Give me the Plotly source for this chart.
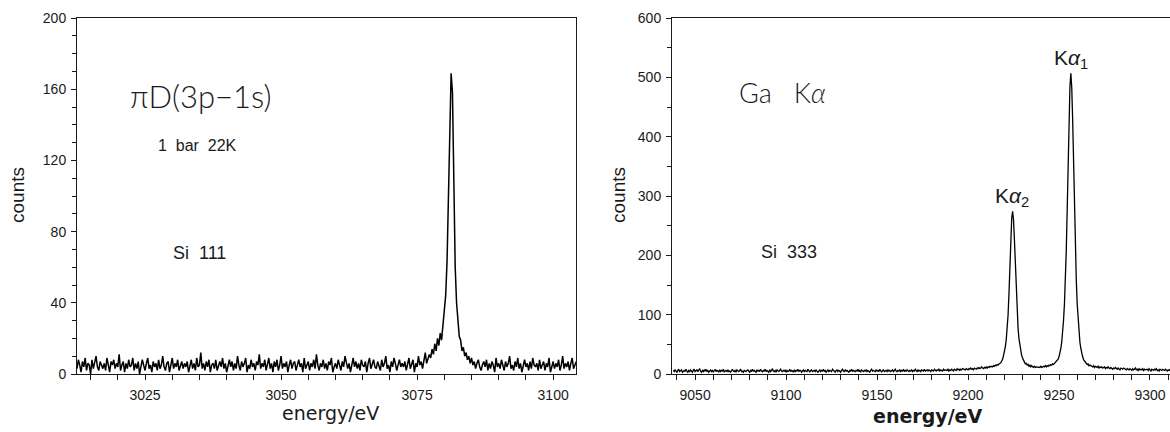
import numpy as np
import plotly.graph_objects as go

# ---------------- data: left panel (pionic deuterium 3p-1s), 0.25 eV bins ----------------
pd_start_eV = 3012.5
pd_step_eV = 0.25
pd_counts = [
    3, 8, 5, 1, 7, 4, 9, 2, 6, 5, 0, 8, 3, 6, 10, 4, 2, 7, 5, 3,
    6, 2, 9, 4, 1, 7, 5, 8, 3, 6, 4, 11, 2, 5, 7, 1, 6, 3, 8, 4,
    5, 9, 2, 6, 3, 7, 0, 4, 8, 5, 2, 6, 9, 3, 5, 1, 7, 4, 6, 2,
    8, 3, 5, 10, 4, 2, 6, 7, 1, 5, 9, 3, 6, 4, 8, 2, 5, 7, 3, 6,
    4, 7, 1, 5, 8, 3, 6, 2, 9, 4, 5, 12, 3, 6, 2, 7, 4, 8, 1, 5,
    6, 3, 8, 2, 5, 7, 4, 9, 3, 6, 1, 5, 8, 4, 7, 2, 6, 3, 10, 5,
    2, 7, 4, 6, 9, 1, 5, 3, 8, 4, 6, 2, 7, 5, 11, 3, 6, 4, 8, 2,
    5, 9, 3, 6, 1, 7, 4, 8, 2, 5, 10, 3, 6, 4, 7, 1, 5, 8, 3, 6,
    7, 2, 5, 8, 4, 6, 1, 9, 3, 5, 7, 2, 6, 4, 8, 3, 11, 5, 2, 6,
    4, 8, 3, 6, 2, 7, 5, 9, 1, 4, 6, 3, 8, 5, 2, 7, 4, 10, 6, 3,
    6, 1, 5, 9, 4, 7, 3, 6, 2, 8, 5, 4, 7, 1, 6, 9, 3, 5, 8, 4,
    3, 7, 5, 2, 8, 4, 6, 10, 3, 5, 1, 7, 4, 9, 6, 2, 5, 8, 4, 6,
    4, 7, 2, 6, 9, 3, 5, 8, 1, 6, 4, 10, 5, 7, 3, 8, 12, 6, 9, 11,
    9, 14, 11, 17, 13, 20, 16, 23, 19, 27, 33, 44, 63, 98, 152, 169, 158, 95, 60, 40,
    29, 21, 19, 13, 15, 10, 12, 8, 10, 6, 9, 5, 7, 3, 6, 8, 4, 2, 5, 7,
    4, 8, 2, 6, 3, 7, 5, 1, 9, 4, 6, 3, 8, 5, 2, 7, 4, 6, 10, 3,
    5, 2, 7, 4, 9, 3, 6, 1, 5, 8, 4, 6, 2, 7, 3, 9, 5, 4, 6, 2,
    8, 3, 5, 7, 2, 6, 4, 9, 1, 5, 7, 3, 6, 4, 8, 2, 5, 10, 3, 6,
    4, 7, 2, 6, 9, 3, 5, 7,
]

# ---------------- data: right panel (Ga K-alpha), 0.5 eV bins ----------------
ga_start_eV = 9038.0
ga_step_eV = 0.5
ga_counts = [
    6, 4, 7, 5, 3, 6, 8, 4, 5, 7, 3, 5, 6, 4, 8, 5, 3, 6, 4, 7,
    5, 3, 6, 8, 4, 5, 7, 4, 6, 9, 5, 3, 6, 4, 7, 5, 8, 4, 6, 3,
    5, 7, 4, 6, 3, 5, 8, 4, 6, 5, 3, 7, 4, 6, 5, 8, 3, 5, 6, 4,
    7, 4, 5, 3, 6, 8, 5, 4, 6, 3, 7, 5, 4, 6, 8, 4, 5, 3, 6, 5,
    4, 6, 7, 5, 3, 6, 4, 8, 5, 6, 4, 3, 7, 5, 6, 4, 8, 5, 3, 6,
    5, 8, 4, 6, 5, 3, 7, 4, 6, 9, 5, 4, 6, 3, 7, 5, 4, 6, 8, 5,
    4, 6, 5, 7, 3, 6, 4, 5, 8, 4, 6, 5, 3, 7, 4, 6, 5, 8, 4, 6,
    6, 3, 5, 7, 4, 6, 5, 4, 8, 5, 3, 6, 7, 4, 5, 6, 4, 7, 5, 3,
    5, 7, 4, 6, 5, 8, 4, 6, 3, 5, 7, 4, 6, 5, 4, 8, 6, 5, 3, 6,
    7, 4, 6, 5, 3, 6, 8, 5, 4, 7, 5, 6, 4, 3, 6, 5, 8, 4, 6, 5,
    4, 6, 5, 8, 4, 6, 3, 7, 5, 4, 6, 5, 7, 4, 6, 5, 3, 6, 8, 5,
    6, 5, 4, 7, 5, 6, 4, 8, 5, 3, 6, 7, 4, 5, 6, 4, 7, 5, 6, 4,
    5, 7, 4, 6, 8, 5, 4, 6, 5, 7, 4, 6, 5, 8, 4, 6, 5, 7, 6, 4,
    6, 5, 7, 4, 6, 5, 8, 6, 4, 7, 5, 6, 4, 7, 6, 5, 8, 5, 6, 7,
    5, 7, 6, 4, 7, 6, 5, 8, 6, 5, 7, 6, 8, 5, 7, 6, 5, 8, 6, 7,
    7, 6, 8, 5, 7, 6, 8, 7, 5, 8, 7, 6, 9, 7, 8, 6, 8, 7, 9, 8,
    8, 7, 9, 8, 7, 9, 8, 10, 8, 9, 7, 10, 9, 8, 10, 9, 11, 9, 10, 12,
    10, 9, 11, 10, 12, 10, 12, 11, 13, 12, 13, 12, 14, 13, 15, 14, 16, 15, 17, 18,
    19, 22, 25, 31, 37, 46, 58, 76, 99, 135, 180, 225, 262, 274, 260, 226, 181, 136, 101, 77,
    59, 47, 38, 31, 27, 22, 20, 17, 18, 15, 16, 13, 15, 12, 14, 12, 11, 13, 11, 12,
    12, 11, 12, 11, 13, 11, 12, 13, 12, 14, 12, 14, 13, 15, 14, 16, 15, 17, 16, 18,
    19, 20, 23, 25, 29, 35, 43, 54, 70, 91, 119, 157, 209, 277, 354, 429, 484, 507, 483, 428,
    353, 276, 208, 157, 118, 90, 70, 53, 43, 34, 29, 24, 22, 19, 18, 16, 17, 14, 15, 13,
    13, 12, 14, 11, 13, 12, 11, 13, 10, 12, 11, 12, 10, 11, 12, 9, 11, 10, 12, 10,
    9, 11, 10, 8, 10, 9, 11, 9, 8, 10, 9, 7, 10, 9, 8, 10, 9, 8, 7, 9,
    8, 7, 9, 8, 6, 9, 7, 8, 10, 7, 8, 6, 9, 7, 8, 7, 9, 6, 8, 7,
    7, 8, 6, 9, 7, 5, 8, 7, 6, 8, 7, 9, 6, 7, 5, 8, 7, 6, 8, 7,
    6, 8, 7, 5, 7, 6, 8,
]

pd_energy = pd_start_eV + pd_step_eV * np.arange(len(pd_counts))
ga_energy = ga_start_eV + ga_step_eV * np.arange(len(ga_counts))

# ---------------- figure ----------------
W, H = 1170, 432
INK = "#1a1a1a"
TICKFONT = dict(family="Liberation Sans, Arial, sans-serif", size=14, color=INK)


def px(x):
    return x / W


def py(y):
    return 1 - y / H


fig = go.Figure()
fig.add_trace(go.Scatter(x=pd_energy, y=pd_counts, mode="lines",
                         line=dict(color="#000000", width=1.5),
                         xaxis="x", yaxis="y", showlegend=False))
fig.add_trace(go.Scatter(x=ga_energy, y=ga_counts, mode="lines",
                         line=dict(color="#000000", width=1.3),
                         xaxis="x2", yaxis="y2", showlegend=False))

axis_common = dict(showline=True, linecolor=INK, linewidth=1, showgrid=False,
                   zeroline=False, ticks="outside", ticklen=5, tickwidth=1,
                   tickcolor=INK, tickfont=TICKFONT, automargin=False)

fig.update_layout(
    width=W, height=H,
    margin=dict(l=0, r=0, t=0, b=0),
    paper_bgcolor="white", plot_bgcolor="white",
    xaxis=dict(domain=[px(77), px(576)], range=[3012.5, 3104.2], anchor="y",
               tick0=3000, dtick=25, mirror=True, ticklabelstandoff=3,
               minor=dict(dtick=5, ticks="outside", ticklen=5, tickcolor=INK),
               **axis_common),
    yaxis=dict(domain=[py(374), py(18)], range=[0, 200], anchor="x",
               tick0=0, dtick=40, mirror=True, ticklabelstandoff=2,
               minor=dict(dtick=10, ticks="outside", ticklen=4, tickcolor=INK),
               **axis_common),
    xaxis2=dict(domain=[px(672), 1.0], range=[9037.3, 9311], anchor="y2",
                tick0=9000, dtick=50, mirror=True, ticklabelstandoff=3,
                minor=dict(dtick=10, ticks="outside", ticklen=5, tickcolor=INK),
                **axis_common),
    yaxis2=dict(domain=[py(374), py(18)], range=[0, 600], anchor="x2",
                tick0=0, dtick=100, mirror=False, ticklabelstandoff=2,
                minor=dict(dtick=50, ticks="outside", ticklen=4, tickcolor=INK),
                **axis_common),
)

NB = "\u00a0"
LIGHT = "Lato, Liberation Sans, Arial"
ann = [
    # axis titles
    dict(x=px(18), y=py(195), text="counts", textangle=-90,
         font=dict(family="Liberation Sans, Arial", size=19, color=INK)),
    dict(x=px(619), y=py(195), text="counts", textangle=-90,
         font=dict(family="Liberation Sans, Arial", size=19, color=INK)),
    dict(x=px(330), y=py(413), text="energy/eV",
         font=dict(family="DejaVu Sans", size=19, color=INK)),
    dict(x=px(927), y=py(416), text="<b>energy/eV</b>",
         font=dict(family="DejaVu Sans", size=19, color=INK)),
    # left panel labels
    dict(x=px(201), y=py(96), text="πD(3p−1s)",
         font=dict(family=LIGHT, size=31, color=INK, weight=300)),
    dict(x=px(197.5), y=py(145), text="1" + NB * 2 + "bar" + NB * 2 + "22K",
         font=dict(family="Liberation Sans, Arial", size=16, color=INK)),
    dict(x=px(199.5), y=py(253), text="Si" + NB * 2 + "111",
         font=dict(family="Liberation Sans, Arial", size=18, color=INK)),
    # right panel labels
    dict(x=px(782), y=py(92), text="Ga" + NB * 3 + "K<i>α</i>",
         font=dict(family=LIGHT, size=27, color=INK, weight=300)),
    dict(x=px(789), y=py(252.5), text="Si" + NB * 2 + "333",
         font=dict(family="Liberation Sans, Arial", size=18, color=INK)),
    dict(x=px(1070.5), y=py(59), text="K<i>α</i><sub>1</sub>",
         font=dict(family="Liberation Sans, Arial", size=21, color=INK)),
    dict(x=px(1011.7), y=py(197), text="K<i>α</i><sub>2</sub>",
         font=dict(family="Liberation Sans, Arial", size=21, color=INK)),
]
for a in ann:
    a.update(xref="paper", yref="paper", showarrow=False,
             xanchor="center", yanchor="middle")
fig.update_layout(annotations=ann)

fig.write_html("out.html")
